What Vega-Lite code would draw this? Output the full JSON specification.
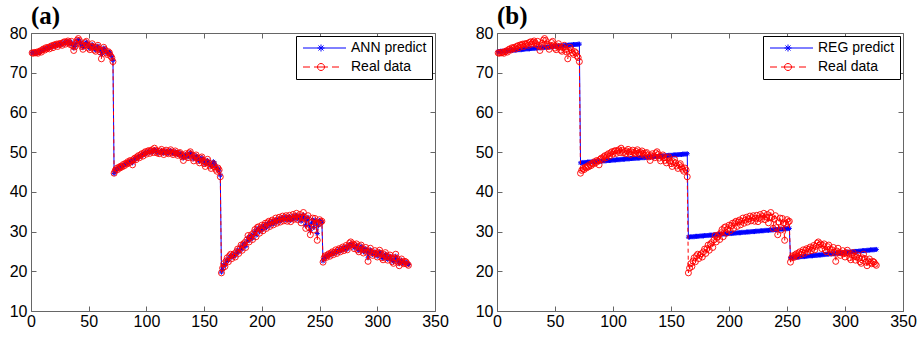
{
"$schema": "https://vega.github.io/schema/vega-lite/v6.json",
"background": "white",
"padding": {"left": 0, "top": 3, "right": 4, "bottom": 0},
"datasets": {"d": [
{"x":1,"real":75.0,"ann":75.1,"reg":75.3},{"x":2,"real":74.9,"ann":75.0,"reg":75.3},{"x":3,"real":75.1,"ann":75.0,"reg":75.4},{"x":4,"real":75.0,"ann":75.1,"reg":75.4},{"x":5,"real":75.2,"ann":75.1,"reg":75.4},{"x":6,"real":74.9,"ann":75.0,"reg":75.4},{"x":7,"real":75.3,"ann":75.2,"reg":75.5},{"x":8,"real":75.5,"ann":75.4,"reg":75.5},{"x":9,"real":75.2,"ann":75.4,"reg":75.5},{"x":10,"real":75.8,"ann":75.7,"reg":75.5},
{"x":11,"real":76.0,"ann":75.9,"reg":75.6},{"x":12,"real":75.7,"ann":75.9,"reg":75.6},{"x":13,"real":76.3,"ann":76.1,"reg":75.6},{"x":14,"real":76.1,"ann":76.2,"reg":75.7},{"x":15,"real":76.4,"ann":76.3,"reg":75.7},{"x":16,"real":76.0,"ann":76.2,"reg":75.7},{"x":17,"real":76.6,"ann":76.5,"reg":75.7},{"x":18,"real":76.8,"ann":76.7,"reg":75.8},{"x":19,"real":76.3,"ann":76.5,"reg":75.8},{"x":20,"real":77.0,"ann":76.9,"reg":75.8},
{"x":21,"real":76.9,"ann":76.9,"reg":75.8},{"x":22,"real":77.2,"ann":77.1,"reg":75.9},{"x":23,"real":76.6,"ann":76.8,"reg":75.9},{"x":24,"real":77.3,"ann":77.2,"reg":75.9},{"x":25,"real":77.1,"ann":77.2,"reg":76.0},{"x":26,"real":77.4,"ann":77.3,"reg":76.0},{"x":27,"real":76.9,"ann":77.1,"reg":76.0},{"x":28,"real":77.6,"ann":77.5,"reg":76.0},{"x":29,"real":77.8,"ann":77.7,"reg":76.1},{"x":30,"real":77.2,"ann":77.4,"reg":76.1},
{"x":31,"real":77.7,"ann":77.6,"reg":76.1},{"x":32,"real":78.0,"ann":77.9,"reg":76.1},{"x":33,"real":77.5,"ann":77.6,"reg":76.2},{"x":34,"real":77.1,"ann":77.3,"reg":76.2},{"x":35,"real":77.9,"ann":77.7,"reg":76.2},{"x":36,"real":76.8,"ann":77.1,"reg":76.3},{"x":37,"real":75.6,"ann":76.2,"reg":76.3},{"x":38,"real":76.5,"ann":76.6,"reg":76.3},{"x":39,"real":77.4,"ann":77.3,"reg":76.3},{"x":40,"real":78.2,"ann":78.0,"reg":76.4},
{"x":41,"real":78.6,"ann":78.3,"reg":76.4},{"x":42,"real":78.1,"ann":78.0,"reg":76.4},{"x":43,"real":77.2,"ann":77.4,"reg":76.4},{"x":44,"real":76.6,"ann":76.9,"reg":76.5},{"x":45,"real":75.9,"ann":76.3,"reg":76.5},{"x":46,"real":76.8,"ann":76.8,"reg":76.5},{"x":47,"real":77.6,"ann":77.4,"reg":76.5},{"x":48,"real":77.9,"ann":77.7,"reg":76.6},{"x":49,"real":77.0,"ann":77.2,"reg":76.6},{"x":50,"real":76.2,"ann":76.5,"reg":76.6},
{"x":51,"real":75.8,"ann":76.1,"reg":76.7},{"x":52,"real":76.7,"ann":76.6,"reg":76.7},{"x":53,"real":77.3,"ann":77.1,"reg":76.7},{"x":54,"real":76.5,"ann":76.7,"reg":76.7},{"x":55,"real":75.7,"ann":76.0,"reg":76.8},{"x":56,"real":75.4,"ann":75.7,"reg":76.8},{"x":57,"real":76.4,"ann":76.3,"reg":76.8},{"x":58,"real":76.9,"ann":76.7,"reg":76.8},{"x":59,"real":75.9,"ann":76.1,"reg":76.9},{"x":60,"real":75.2,"ann":75.5,"reg":76.9},
{"x":61,"real":73.5,"ann":74.6,"reg":76.9},{"x":62,"real":75.6,"ann":75.5,"reg":77.0},{"x":63,"real":76.4,"ann":76.2,"reg":77.0},{"x":64,"real":75.8,"ann":75.9,"reg":77.0},{"x":65,"real":75.0,"ann":75.3,"reg":77.0},{"x":66,"real":74.6,"ann":74.9,"reg":77.1},{"x":67,"real":75.3,"ann":75.2,"reg":77.1},{"x":68,"real":75.0,"ann":75.1,"reg":77.1},{"x":69,"real":74.2,"ann":74.5,"reg":77.1},{"x":70,"real":73.8,"ann":74.0,"reg":77.2},
{"x":71,"real":72.8,"ann":73.1,"reg":77.2},
{"x":72,"real":44.7,"ann":44.6,"reg":47.3},{"x":73,"real":45.4,"ann":45.2,"reg":47.3},{"x":74,"real":45.9,"ann":45.7,"reg":47.4},{"x":75,"real":45.6,"ann":45.8,"reg":47.4},{"x":76,"real":46.2,"ann":46.0,"reg":47.4},{"x":77,"real":46.0,"ann":46.1,"reg":47.4},{"x":78,"real":46.5,"ann":46.3,"reg":47.5},{"x":79,"real":46.3,"ann":46.4,"reg":47.5},{"x":80,"real":46.9,"ann":46.7,"reg":47.5},
{"x":81,"real":46.6,"ann":46.8,"reg":47.5},{"x":82,"real":47.2,"ann":47.0,"reg":47.6},{"x":83,"real":47.0,"ann":47.1,"reg":47.6},{"x":84,"real":47.6,"ann":47.4,"reg":47.6},{"x":85,"real":47.3,"ann":47.4,"reg":47.6},{"x":86,"real":47.9,"ann":47.7,"reg":47.6},{"x":87,"real":47.7,"ann":47.8,"reg":47.7},{"x":88,"real":46.8,"ann":47.3,"reg":47.7},{"x":89,"real":48.2,"ann":48.0,"reg":47.7},{"x":90,"real":48.5,"ann":48.3,"reg":47.7},
{"x":91,"real":48.1,"ann":48.3,"reg":47.8},{"x":92,"real":48.8,"ann":48.6,"reg":47.8},{"x":93,"real":49.1,"ann":48.9,"reg":47.8},{"x":94,"real":48.6,"ann":48.8,"reg":47.8},{"x":95,"real":49.3,"ann":49.1,"reg":47.9},{"x":96,"real":49.6,"ann":49.4,"reg":47.9},{"x":97,"real":49.0,"ann":49.2,"reg":47.9},{"x":98,"real":49.8,"ann":49.6,"reg":47.9},{"x":99,"real":50.1,"ann":49.9,"reg":48.0},{"x":100,"real":49.5,"ann":49.7,"reg":48.0},
{"x":101,"real":50.2,"ann":50.0,"reg":48.0},{"x":102,"real":50.4,"ann":50.2,"reg":48.0},{"x":103,"real":49.7,"ann":49.9,"reg":48.1},{"x":104,"real":50.3,"ann":50.1,"reg":48.1},{"x":105,"real":50.6,"ann":50.4,"reg":48.1},{"x":106,"real":49.9,"ann":50.1,"reg":48.1},{"x":107,"real":51.0,"ann":50.6,"reg":48.2},{"x":108,"real":50.5,"ann":50.5,"reg":48.2},{"x":109,"real":49.8,"ann":50.0,"reg":48.2},{"x":110,"real":50.2,"ann":50.1,"reg":48.2},
{"x":111,"real":49.6,"ann":49.8,"reg":48.3},{"x":112,"real":50.3,"ann":50.1,"reg":48.3},{"x":113,"real":50.7,"ann":50.4,"reg":48.3},{"x":114,"real":50.0,"ann":50.1,"reg":48.3},{"x":115,"real":49.4,"ann":49.7,"reg":48.4},{"x":116,"real":50.1,"ann":49.9,"reg":48.4},{"x":117,"real":50.5,"ann":50.3,"reg":48.4},{"x":118,"real":49.9,"ann":50.0,"reg":48.4},{"x":119,"real":49.6,"ann":49.7,"reg":48.4},{"x":120,"real":50.2,"ann":50.0,"reg":48.5},
{"x":121,"real":50.6,"ann":50.4,"reg":48.5},{"x":122,"real":49.8,"ann":50.0,"reg":48.5},{"x":123,"real":49.4,"ann":49.6,"reg":48.5},{"x":124,"real":49.9,"ann":49.8,"reg":48.6},{"x":125,"real":50.3,"ann":50.1,"reg":48.6},{"x":126,"real":49.7,"ann":49.8,"reg":48.6},{"x":127,"real":49.2,"ann":49.4,"reg":48.6},{"x":128,"real":49.7,"ann":49.6,"reg":48.7},{"x":129,"real":49.9,"ann":49.8,"reg":48.7},{"x":130,"real":49.3,"ann":49.4,"reg":48.7},
{"x":131,"real":48.8,"ann":49.0,"reg":48.7},{"x":132,"real":47.9,"ann":48.5,"reg":48.8},{"x":133,"real":49.1,"ann":48.9,"reg":48.8},{"x":134,"real":49.6,"ann":49.4,"reg":48.8},{"x":135,"real":49.0,"ann":49.1,"reg":48.8},{"x":136,"real":48.6,"ann":48.8,"reg":48.9},{"x":137,"real":49.8,"ann":49.5,"reg":48.9},{"x":138,"real":50.1,"ann":49.9,"reg":48.9},{"x":139,"real":49.4,"ann":49.5,"reg":48.9},{"x":140,"real":48.5,"ann":48.8,"reg":49.0},
{"x":141,"real":47.8,"ann":48.3,"reg":49.0},{"x":142,"real":48.9,"ann":48.7,"reg":49.0},{"x":143,"real":49.3,"ann":49.1,"reg":49.0},{"x":144,"real":48.6,"ann":48.8,"reg":49.1},{"x":145,"real":47.9,"ann":48.2,"reg":49.1},{"x":146,"real":47.3,"ann":47.7,"reg":49.1},{"x":147,"real":48.5,"ann":48.2,"reg":49.1},{"x":148,"real":48.8,"ann":48.6,"reg":49.2},{"x":149,"real":47.8,"ann":48.1,"reg":49.2},{"x":150,"real":47.1,"ann":47.5,"reg":49.2},
{"x":151,"real":46.4,"ann":47.0,"reg":49.2},{"x":152,"real":47.6,"ann":47.4,"reg":49.3},{"x":153,"real":48.2,"ann":47.9,"reg":49.3},{"x":154,"real":47.3,"ann":47.5,"reg":49.3},{"x":155,"real":46.5,"ann":46.9,"reg":49.3},{"x":156,"real":45.9,"ann":46.4,"reg":49.4},{"x":157,"real":46.8,"ann":46.7,"reg":49.4},{"x":158,"real":47.1,"ann":47.6,"reg":49.4},{"x":159,"real":46.3,"ann":47.2,"reg":49.4},{"x":160,"real":45.7,"ann":46.5,"reg":49.5},
{"x":161,"real":45.2,"ann":45.9,"reg":49.5},{"x":162,"real":46.0,"ann":45.9,"reg":49.5},{"x":163,"real":45.5,"ann":45.3,"reg":49.5},{"x":164,"real":43.8,"ann":44.2,"reg":49.6},
{"x":165,"real":19.6,"ann":19.8,"reg":28.6},{"x":166,"real":20.8,"ann":20.5,"reg":28.6},{"x":167,"real":21.9,"ann":21.6,"reg":28.7},{"x":168,"real":21.2,"ann":21.5,"reg":28.7},{"x":169,"real":22.6,"ann":22.3,"reg":28.7},{"x":170,"real":23.4,"ann":23.0,"reg":28.7},
{"x":171,"real":22.4,"ann":22.7,"reg":28.8},{"x":172,"real":23.9,"ann":23.6,"reg":28.8},{"x":173,"real":24.3,"ann":24.0,"reg":28.8},{"x":174,"real":23.2,"ann":23.5,"reg":28.8},{"x":175,"real":24.0,"ann":23.8,"reg":28.9},{"x":176,"real":24.4,"ann":24.2,"reg":28.9},{"x":177,"real":23.6,"ann":23.9,"reg":28.9},{"x":178,"real":24.9,"ann":24.6,"reg":28.9},{"x":179,"real":25.6,"ann":25.3,"reg":29.0},{"x":180,"real":24.5,"ann":24.8,"reg":29.0},
{"x":181,"real":25.7,"ann":25.5,"reg":29.0},{"x":182,"real":26.6,"ann":26.3,"reg":29.0},{"x":183,"real":25.3,"ann":25.6,"reg":29.1},{"x":184,"real":26.8,"ann":26.5,"reg":29.1},{"x":185,"real":27.2,"ann":27.0,"reg":29.1},{"x":186,"real":26.0,"ann":26.3,"reg":29.1},{"x":187,"real":27.9,"ann":27.6,"reg":29.2},{"x":188,"real":29.0,"ann":28.5,"reg":29.2},{"x":189,"real":27.4,"ann":27.7,"reg":29.2},{"x":190,"real":28.6,"ann":28.4,"reg":29.2},
{"x":191,"real":29.2,"ann":29.0,"reg":29.3},{"x":192,"real":28.0,"ann":28.3,"reg":29.3},{"x":193,"real":29.7,"ann":29.4,"reg":29.3},{"x":194,"real":30.5,"ann":30.1,"reg":29.3},{"x":195,"real":28.7,"ann":29.1,"reg":29.4},{"x":196,"real":31.0,"ann":30.6,"reg":29.4},{"x":197,"real":31.2,"ann":30.9,"reg":29.4},{"x":198,"real":29.6,"ann":29.9,"reg":29.4},{"x":199,"real":30.6,"ann":30.5,"reg":29.5},{"x":200,"real":31.6,"ann":31.3,"reg":29.5},
{"x":201,"real":30.2,"ann":30.5,"reg":29.5},{"x":202,"real":31.5,"ann":31.3,"reg":29.5},{"x":203,"real":32.1,"ann":31.8,"reg":29.6},{"x":204,"real":30.8,"ann":31.0,"reg":29.6},{"x":205,"real":32.2,"ann":31.9,"reg":29.6},{"x":206,"real":32.6,"ann":32.3,"reg":29.6},{"x":207,"real":31.3,"ann":31.5,"reg":29.7},{"x":208,"real":32.4,"ann":32.2,"reg":29.7},{"x":209,"real":32.9,"ann":32.6,"reg":29.7},{"x":210,"real":31.7,"ann":31.9,"reg":29.7},
{"x":211,"real":32.6,"ann":32.4,"reg":29.8},{"x":212,"real":33.4,"ann":33.0,"reg":29.8},{"x":213,"real":32.1,"ann":32.3,"reg":29.8},{"x":214,"real":32.9,"ann":32.8,"reg":29.8},{"x":215,"real":33.6,"ann":33.3,"reg":29.9},{"x":216,"real":32.4,"ann":32.6,"reg":29.9},{"x":217,"real":33.2,"ann":33.1,"reg":29.9},{"x":218,"real":33.9,"ann":33.6,"reg":29.9},{"x":219,"real":32.7,"ann":32.9,"reg":30.0},{"x":220,"real":33.5,"ann":33.3,"reg":30.0},
{"x":221,"real":34.0,"ann":33.7,"reg":30.0},{"x":222,"real":32.6,"ann":32.9,"reg":30.0},{"x":223,"real":33.3,"ann":33.2,"reg":30.1},{"x":224,"real":34.1,"ann":33.8,"reg":30.1},{"x":225,"real":32.5,"ann":32.8,"reg":30.1},{"x":226,"real":33.4,"ann":33.3,"reg":30.1},{"x":227,"real":34.3,"ann":33.9,"reg":30.2},{"x":228,"real":33.1,"ann":33.2,"reg":30.2},{"x":229,"real":33.8,"ann":33.6,"reg":30.2},{"x":230,"real":34.6,"ann":34.1,"reg":30.2},
{"x":231,"real":33.0,"ann":33.2,"reg":30.3},{"x":232,"real":33.7,"ann":33.5,"reg":30.3},{"x":233,"real":34.3,"ann":33.9,"reg":30.3},{"x":234,"real":32.2,"ann":32.6,"reg":30.3},{"x":235,"real":33.5,"ann":33.3,"reg":30.4},{"x":236,"real":34.8,"ann":34.2,"reg":30.4},{"x":237,"real":33.6,"ann":33.5,"reg":30.4},{"x":238,"real":30.8,"ann":31.5,"reg":30.4},{"x":239,"real":33.1,"ann":32.8,"reg":30.5},{"x":240,"real":34.0,"ann":33.6,"reg":30.5},
{"x":241,"real":31.0,"ann":31.6,"reg":30.5},{"x":242,"real":29.2,"ann":30.2,"reg":30.5},{"x":243,"real":32.4,"ann":32.1,"reg":30.6},{"x":244,"real":33.4,"ann":33.0,"reg":30.6},{"x":245,"real":30.4,"ann":31.0,"reg":30.6},{"x":246,"real":33.3,"ann":32.9,"reg":30.6},{"x":247,"real":32.2,"ann":32.4,"reg":30.7},{"x":248,"real":27.8,"ann":29.5,"reg":30.7},{"x":249,"real":31.9,"ann":31.6,"reg":30.7},{"x":250,"real":33.0,"ann":32.8,"reg":30.7},
{"x":251,"real":32.4,"ann":32.5,"reg":30.8},{"x":252,"real":32.6,"ann":32.4,"reg":30.8},
{"x":253,"real":22.3,"ann":22.6,"reg":23.4},{"x":254,"real":23.4,"ann":23.2,"reg":23.4},{"x":255,"real":23.9,"ann":23.7,"reg":23.5},{"x":256,"real":23.5,"ann":23.6,"reg":23.5},{"x":257,"real":24.1,"ann":24.0,"reg":23.5},{"x":258,"real":24.4,"ann":24.3,"reg":23.5},{"x":259,"real":23.8,"ann":24.0,"reg":23.6},{"x":260,"real":24.6,"ann":24.4,"reg":23.6},
{"x":261,"real":24.9,"ann":24.7,"reg":23.6},{"x":262,"real":24.2,"ann":24.4,"reg":23.7},{"x":263,"real":24.8,"ann":24.7,"reg":23.7},{"x":264,"real":25.4,"ann":25.1,"reg":23.7},{"x":265,"real":24.5,"ann":24.7,"reg":23.7},{"x":266,"real":25.3,"ann":25.1,"reg":23.8},{"x":267,"real":25.7,"ann":25.5,"reg":23.8},{"x":268,"real":24.9,"ann":25.1,"reg":23.8},{"x":269,"real":25.6,"ann":25.4,"reg":23.9},{"x":270,"real":26.1,"ann":25.9,"reg":23.9},
{"x":271,"real":25.2,"ann":25.4,"reg":23.9},{"x":272,"real":25.8,"ann":25.7,"reg":23.9},{"x":273,"real":26.5,"ann":26.2,"reg":24.0},{"x":274,"real":25.4,"ann":25.6,"reg":24.0},{"x":275,"real":26.3,"ann":26.1,"reg":24.0},{"x":276,"real":27.1,"ann":26.7,"reg":24.1},{"x":277,"real":27.4,"ann":26.9,"reg":24.1},{"x":278,"real":26.6,"ann":26.5,"reg":24.1},{"x":279,"real":26.9,"ann":26.6,"reg":24.1},{"x":280,"real":25.7,"ann":25.9,"reg":24.2},
{"x":281,"real":26.5,"ann":26.2,"reg":24.2},{"x":282,"real":26.9,"ann":26.5,"reg":24.2},{"x":283,"real":25.4,"ann":25.6,"reg":24.3},{"x":284,"real":24.9,"ann":25.2,"reg":24.3},{"x":285,"real":26.2,"ann":25.9,"reg":24.3},{"x":286,"real":26.6,"ann":26.3,"reg":24.3},{"x":287,"real":25.6,"ann":25.7,"reg":24.4},{"x":288,"real":24.6,"ann":24.9,"reg":24.4},{"x":289,"real":25.4,"ann":25.3,"reg":24.4},{"x":290,"real":26.0,"ann":25.7,"reg":24.4},
{"x":291,"real":24.8,"ann":24.9,"reg":24.5},{"x":292,"real":22.5,"ann":23.4,"reg":24.5},{"x":293,"real":25.1,"ann":24.8,"reg":24.5},{"x":294,"real":25.8,"ann":25.4,"reg":24.6},{"x":295,"real":24.7,"ann":24.8,"reg":24.6},{"x":296,"real":24.0,"ann":24.2,"reg":24.6},{"x":297,"real":24.6,"ann":24.5,"reg":24.6},{"x":298,"real":25.2,"ann":24.9,"reg":24.7},{"x":299,"real":24.4,"ann":24.4,"reg":24.7},{"x":300,"real":23.6,"ann":23.8,"reg":24.7},
{"x":301,"real":24.7,"ann":24.4,"reg":24.8},{"x":302,"real":25.3,"ann":24.9,"reg":24.8},{"x":303,"real":24.5,"ann":24.4,"reg":24.8},{"x":304,"real":23.4,"ann":23.6,"reg":24.8},{"x":305,"real":22.9,"ann":23.2,"reg":24.9},{"x":306,"real":24.2,"ann":23.9,"reg":24.9},{"x":307,"real":24.7,"ann":24.3,"reg":24.9},{"x":308,"real":23.8,"ann":23.8,"reg":25.0},{"x":309,"real":22.8,"ann":23.0,"reg":25.0},{"x":310,"real":23.6,"ann":23.4,"reg":25.0},
{"x":311,"real":24.1,"ann":23.8,"reg":25.0},{"x":312,"real":23.3,"ann":23.3,"reg":25.1},{"x":313,"real":22.4,"ann":22.7,"reg":25.1},{"x":314,"real":22.0,"ann":22.4,"reg":25.1},{"x":315,"real":23.4,"ann":23.1,"reg":25.2},{"x":316,"real":24.3,"ann":23.8,"reg":25.2},{"x":317,"real":23.2,"ann":23.2,"reg":25.2},{"x":318,"real":22.3,"ann":22.5,"reg":25.2},{"x":319,"real":21.4,"ann":21.9,"reg":25.3},{"x":320,"real":22.6,"ann":22.4,"reg":25.3},
{"x":321,"real":23.1,"ann":22.8,"reg":25.3},{"x":322,"real":22.2,"ann":22.3,"reg":25.4},{"x":323,"real":21.9,"ann":22.0,"reg":25.4},{"x":324,"real":22.5,"ann":22.3,"reg":25.4},{"x":325,"real":22.3,"ann":22.2,"reg":25.4},{"x":326,"real":21.8,"ann":21.9,"reg":25.5},{"x":327,"real":21.5,"ann":21.7,"reg":25.5}
]},
"spacing": 62,
"bounds": "flush",
"resolve": {"scale": {"color": "independent", "x": "independent", "y": "independent"}, "legend": {"color": "independent"}},
"hconcat": [
{
"width": 404, "height": 278,
"title": {"text": "(a)", "anchor": "start", "frame": "group", "font": "Liberation Serif", "fontSize": 25, "fontWeight": "bold", "color": "black", "offset": -4},
"data": {"name": "d"},
"transform": [{"fold": ["ann", "real"], "as": ["series", "v"]}],
"layer": [
{"transform": [{"filter": "datum.series == 'ann'"}],
 "mark": {"type": "line", "strokeWidth": 1, "point": {"shape": "M-1,0H1M0,-1V1M-0.7,-0.7L0.7,0.7M-0.7,0.7L0.7,-0.7", "size": 25, "filled": false, "strokeWidth": 1, "opacity": 1}},
 "encoding": {
  "x": {"field": "x", "type": "quantitative", "scale": {"domain": [0, 350], "nice": false, "zero": false}, "axis": {"orient": "bottom", "title": null, "values": [0,50,100,150,200,250,300,350], "labelPadding": 7, "minExtent": 29, "maxExtent": 29}},
  "y": {"field": "v", "type": "quantitative", "scale": {"domain": [10, 80], "nice": false, "zero": false}, "axis": {"orient": "left", "title": null, "values": [10,20,30,40,50,60,70,80], "labelPadding": 9, "minExtent": 30, "maxExtent": 30}},
  "color": {"field": "series", "type": "nominal", "scale": {"domain": ["ann", "real"], "range": ["blue", "red"]},
   "legend": {"orient": "none", "legendX": 265, "legendY": 3, "title": null, "strokeColor": "black", "fillColor": "white", "padding": 5, "symbolSize": 100, "labelOffset": 36, "labelFont": "Liberation Sans", "labelFontSize": 14, "labelColor": "black", "rowPadding": 5,
    "labelExpr": "datum.value == 'ann' ? 'ANN predict' : 'Real data'",
    "encode": {"symbols": {"update": {"shape": {"signal": "datum.value == 'ann' ? 'M-1,0H7.6M2.6,-0.7V0.7M1.9,0H3.3M2.1,-0.5L3.1,0.5M2.1,0.5L3.1,-0.5' : 'M-1,0H0.4M1.2,0H4M4.8,0H6.2M3.3,0A0.7,0.7 0 1,1 1.9,0A0.7,0.7 0 1,1 3.3,0'"}, "stroke": {"signal": "datum.value == 'ann' ? 'blue' : 'red'"}, "fill": {"value": "transparent"}, "strokeWidth": {"value": 1}, "strokeDash": {"value": []}, "opacity": {"value": 1}}}}}}
 }},
{"transform": [{"filter": "datum.series == 'real'"}],
 "mark": {"type": "line", "strokeWidth": 1, "strokeDash": [4, 3], "point": {"shape": "circle", "size": 36, "filled": false, "strokeWidth": 0.9, "opacity": 1}},
 "encoding": {
  "x": {"field": "x", "type": "quantitative", "axis": {"orient": "top", "title": null, "values": [0,50,100,150,200,250,300,350], "labels": false, "minExtent": 0, "maxExtent": 0}},
  "y": {"field": "v", "type": "quantitative", "axis": {"orient": "right", "title": null, "values": [10,20,30,40,50,60,70,80], "labels": false, "minExtent": 0, "maxExtent": 0}},
  "color": {"field": "series", "type": "nominal"}
 }}
]
},
{
"width": 406, "height": 278,
"title": {"text": "(b)", "anchor": "start", "frame": "group", "font": "Liberation Serif", "fontSize": 25, "fontWeight": "bold", "color": "black", "offset": -4},
"data": {"name": "d"},
"transform": [{"fold": ["reg", "real"], "as": ["series", "v"]}],
"layer": [
{"transform": [{"filter": "datum.series == 'reg'"}],
 "mark": {"type": "line", "strokeWidth": 1, "point": {"shape": "M-1,0H1M0,-1V1M-0.7,-0.7L0.7,0.7M-0.7,0.7L0.7,-0.7", "size": 25, "filled": false, "strokeWidth": 1, "opacity": 1}},
 "encoding": {
  "x": {"field": "x", "type": "quantitative", "scale": {"domain": [0, 350], "nice": false, "zero": false}, "axis": {"orient": "bottom", "title": null, "values": [0,50,100,150,200,250,300,350], "labelPadding": 7, "minExtent": 29, "maxExtent": 29}},
  "y": {"field": "v", "type": "quantitative", "scale": {"domain": [10, 80], "nice": false, "zero": false}, "axis": {"orient": "left", "title": null, "values": [10,20,30,40,50,60,70,80], "labelPadding": 9, "minExtent": 30, "maxExtent": 30}},
  "color": {"field": "series", "type": "nominal", "scale": {"domain": ["reg", "real"], "range": ["blue", "red"]},
   "legend": {"orient": "none", "legendX": 266, "legendY": 3, "title": null, "strokeColor": "black", "fillColor": "white", "padding": 5, "symbolSize": 100, "labelOffset": 36, "labelFont": "Liberation Sans", "labelFontSize": 14, "labelColor": "black", "rowPadding": 5,
    "labelExpr": "datum.value == 'reg' ? 'REG predict' : 'Real data'",
    "encode": {"symbols": {"update": {"shape": {"signal": "datum.value == 'reg' ? 'M-1,0H7.6M2.6,-0.7V0.7M1.9,0H3.3M2.1,-0.5L3.1,0.5M2.1,0.5L3.1,-0.5' : 'M-1,0H0.4M1.2,0H4M4.8,0H6.2M3.3,0A0.7,0.7 0 1,1 1.9,0A0.7,0.7 0 1,1 3.3,0'"}, "stroke": {"signal": "datum.value == 'reg' ? 'blue' : 'red'"}, "fill": {"value": "transparent"}, "strokeWidth": {"value": 1}, "strokeDash": {"value": []}, "opacity": {"value": 1}}}}}}
 }},
{"transform": [{"filter": "datum.series == 'real'"}],
 "mark": {"type": "line", "strokeWidth": 1, "strokeDash": [4, 3], "point": {"shape": "circle", "size": 36, "filled": false, "strokeWidth": 0.9, "opacity": 1}},
 "encoding": {
  "x": {"field": "x", "type": "quantitative", "axis": {"orient": "top", "title": null, "values": [0,50,100,150,200,250,300,350], "labels": false, "minExtent": 0, "maxExtent": 0}},
  "y": {"field": "v", "type": "quantitative", "axis": {"orient": "right", "title": null, "values": [10,20,30,40,50,60,70,80], "labels": false, "minExtent": 0, "maxExtent": 0}},
  "color": {"field": "series", "type": "nominal"}
 }}
]
}
],
"config": {
 "view": {"stroke": "#666", "strokeWidth": 1},
 "axis": {"domain": false, "grid": false, "tickSize": -5, "tickColor": "#666", "labelFont": "Liberation Sans", "labelFontSize": 16, "labelColor": "black", "labelOverlap": false, "labelFlush": false}
}
}
